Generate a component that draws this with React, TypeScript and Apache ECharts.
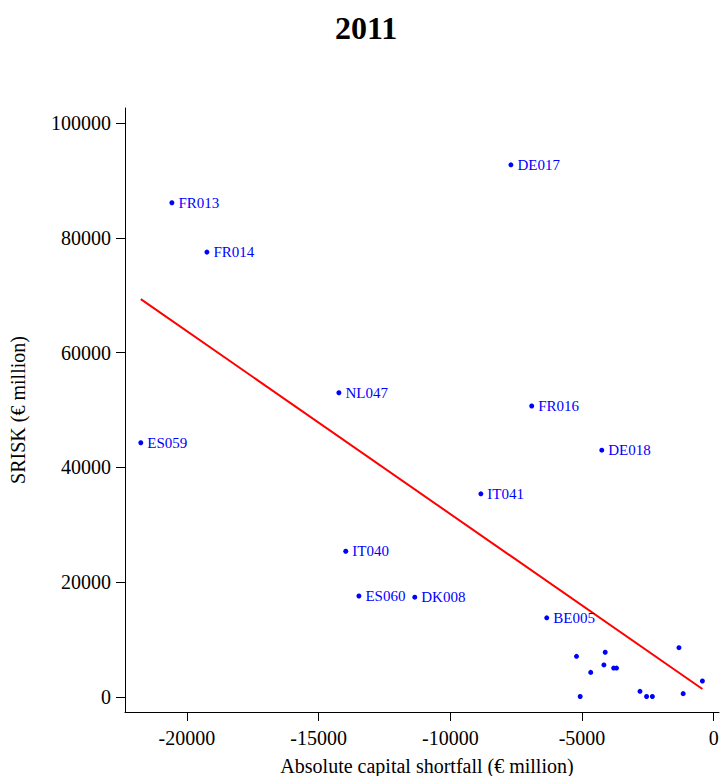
import React, { useEffect, useRef } from "react";
import * as echarts from "echarts";

const bankNames = ["DE017", "FR013", "FR014", "NL047", "FR016", "ES059", "DE018", "IT041", "IT040", "ES060", "DK008", "BE005",
  "", "", "", "", "", "", "", "", "", "", "", "", ""];
const shortfall = [-7700, -20570, -19240, -14230, -6910, -21750, -4250, -8840, -13970, -13470, -11350, -6340,
  -5210, -4120, -4670, -4170, -3800, -3690, -5070, -2800, -2550, -2330, -1320, -1160, -430];
const srisk = [92700, 86100, 77500, 53000, 50700, 44300, 43000, 35400, 25400, 17600, 17400, 13800,
  7100, 7800, 4300, 5600, 5050, 5050, 100, 1000, 100, 100, 8600, 600, 2800];
const fitX = [-21750, -430];
const fitY = [69300, 1400];
const xTicks = [-20000, -15000, -10000, -5000, 0];
const yTicks = [0, 20000, 40000, 60000, 80000, 100000];
const titleText = "2011";

const FONT = "'Liberation Serif', 'Times New Roman', serif";

export default function App() {
  const ref = useRef<HTMLDivElement>(null);
  useEffect(() => {
    const chart = echarts.init(ref.current!, null, { renderer: "svg" });
    const pts = shortfall.map((x, i) => ({ value: [x, srisk[i]], name: bankNames[i] }));
    chart.setOption({
      animation: false,
      backgroundColor: "#ffffff",
      graphic: [
        {
          type: "text",
          x: 366,
          y: 28,
          style: {
            text: titleText,
            fontFamily: FONT,
            fontSize: 32,
            fontWeight: "bold",
            fill: "#000",
            align: "center",
            verticalAlign: "middle",
          },
        },
      ],
      grid: { left: 125, right: 1, top: 108, bottom: 64, outerBoundsMode: "none", containLabel: false },
      xAxis: {
        type: "value",
        min: -22350,
        max: 200,
        name: "Absolute capital shortfall (€ million)",
        nameLocation: "middle",
        nameGap: 44,
        nameTextStyle: { fontFamily: FONT, fontSize: 20, color: "#000", padding: [0, 0, 0, 10] },
        axisLine: { show: true, onZero: false, lineStyle: { color: "#000", width: 1 } },
        axisTick: { show: true, length: 9, customValues: xTicks, lineStyle: { color: "#000" } },
        axisLabel: {
          customValues: xTicks,
          formatter: (v: number) => String(v),
          fontFamily: FONT,
          fontSize: 20,
          color: "#000",
          margin: 16,
        },
        splitLine: { show: false },
      },
      yAxis: {
        type: "value",
        min: -2600,
        max: 102600,
        name: "SRISK (€ million)",
        nameLocation: "middle",
        nameGap: 97,
        nameRotate: 90,
        nameTextStyle: { fontFamily: FONT, fontSize: 20, color: "#000" },
        axisLine: { show: true, onZero: false, lineStyle: { color: "#000", width: 1 } },
        axisTick: { show: true, length: 9, customValues: yTicks, lineStyle: { color: "#000" } },
        axisLabel: {
          customValues: yTicks,
          formatter: (v: number) => String(v),
          fontFamily: FONT,
          fontSize: 20,
          color: "#000",
          margin: 14,
        },
        splitLine: { show: false },
      },
      series: [
        {
          type: "line",
          data: fitX.map((x, i) => [x, fitY[i]]),
          symbol: "none",
          lineStyle: { color: "#ff0000", width: 2 },
          itemStyle: { color: "#ff0000" },
          z: 2,
        },
        {
          type: "scatter",
          data: pts,
          symbolSize: 5,
          itemStyle: { color: "#0000ff", opacity: 1 },
          label: {
            show: true,
            position: "right",
            distance: 4,
            formatter: (p: any) => p.name,
            fontFamily: FONT,
            fontSize: 15,
            color: "#0000ff",
          },
          z: 3,
        },
      ],
    });
    return () => chart.dispose();
  }, []);
  return <div ref={ref} style={{ position: "absolute", left: 0, top: 0, width: 720, height: 776 }} />;
}
